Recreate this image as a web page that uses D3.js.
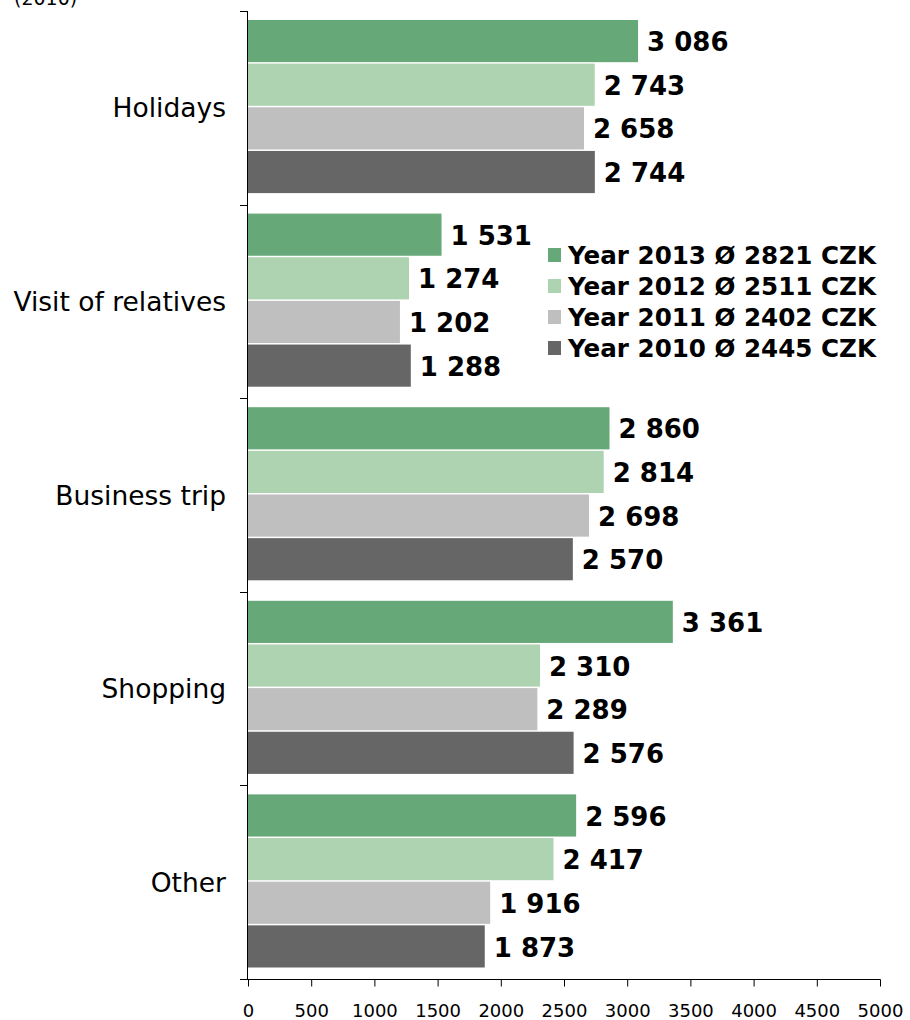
<!DOCTYPE html>
<html><head><meta charset="utf-8">
<script src="https://cdn.jsdelivr.net/npm/d3@7"></script>
<style>body{margin:0;background:#fff}svg{display:block;font-family:"DejaVu Sans",Verdana,sans-serif}</style>
</head><body><svg id="c" width="910" height="1020"></svg>
<script>
const categories = ["Holidays","Visit of relatives","Business trip","Shopping","Other"];
const seriesNames = ["Year 2013 Ø 2821 CZK","Year 2012 Ø 2511 CZK","Year 2011 Ø 2402 CZK","Year 2010 Ø 2445 CZK"];
const y2013 = [3086,1531,2860,3361,2596];
const y2012 = [2743,1274,2814,2310,2417];
const y2011 = [2658,1202,2698,2289,1916];
const y2010 = [2744,1288,2570,2576,1873];
const colors = ["#67a878","#aed3b0","#bfbfbf","#666666"];
const xTicks = [0,500,1000,1500,2000,2500,3000,3500,4000,4500,5000];
const series = [y2013,y2012,y2011,y2010];

const svg = d3.select("#c");
const x = d3.scaleLinear().domain([0,5000]).range([248,880]);
const y = d3.scaleBand().domain(categories).range([11,979]).paddingInner(0).paddingOuter(0);
const yi = d3.scaleBand().domain(d3.range(4)).range([9, y.bandwidth()-10]);

const fmt = v => d3.format(",")(v).replace(/,/g," ");

svg.append("text").attr("x",14).attr("y",5).attr("font-size",19).attr("fill","#000").text("(2010)");

const g = svg.append("g");
categories.forEach((c,ci)=>{
  series.forEach((s,si)=>{
    const by = y(c)+yi(si);
    g.append("rect").attr("x",x(0)).attr("y",by).attr("width",x(s[ci])-x(0)).attr("height",yi.bandwidth()-1.5)
      .attr("fill",colors[si]);
    g.append("text").attr("x",x(s[ci])+9).attr("y",by+yi.bandwidth()/2).attr("dy","0.36em")
      .attr("font-size",26).attr("font-weight","bold").attr("fill","#000").text(fmt(s[ci]));
  });
  svg.append("text").attr("x",226).attr("y",y(c)+y.bandwidth()/2).attr("dy","0.36em")
    .attr("text-anchor","end").attr("font-size",26.5).attr("fill","#000").text(c);
});

// y axis
const ya = svg.append("g");
ya.append("line").attr("x1",247.5).attr("x2",247.5).attr("y1",11).attr("y2",979).attr("stroke","#000");
const bounds = categories.map(c=>y(c)).concat([979]);
bounds.forEach(b=>ya.append("line").attr("x1",240).attr("x2",248).attr("y1",Math.round(b)+0.5).attr("y2",Math.round(b)+0.5).attr("stroke","#000"));

// x axis
const xa = svg.append("g").attr("transform","translate(0,979.5)")
  .call(d3.axisBottom(x).tickValues(xTicks).tickSize(7).tickPadding(18).tickFormat(d3.format("d")));
xa.select(".domain").attr("stroke","#000").attr("d","M240,0H880.5");
xa.selectAll(".tick line").attr("stroke","#000");
xa.selectAll(".tick text").attr("font-size",18).attr("fill","#000").attr("font-family","'DejaVu Sans',Verdana,sans-serif");

// legend
const lg = svg.append("g");
seriesNames.forEach((n,i)=>{
  const cy = 255 + i*31;
  lg.append("rect").attr("x",548).attr("y",cy-7).attr("width",13).attr("height",14).attr("fill",colors[i]);
  lg.append("text").attr("x",568).attr("y",cy).attr("dy","0.36em").attr("font-size",24.6).attr("font-weight","bold").attr("fill","#000").text(n);
});
</script></body></html>
